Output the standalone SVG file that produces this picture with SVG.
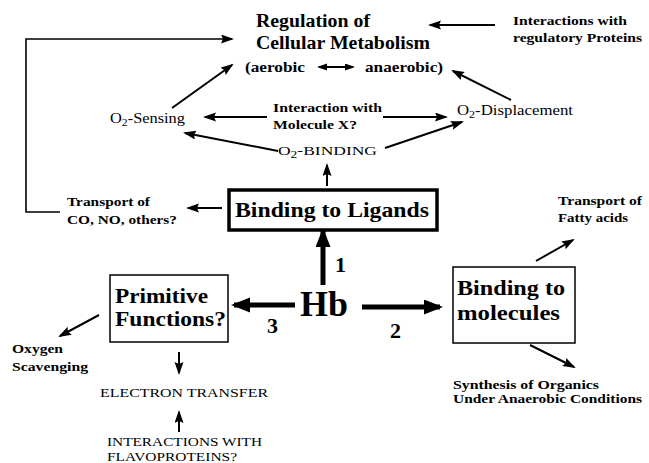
<svg xmlns="http://www.w3.org/2000/svg" width="649" height="463" viewBox="0 0 649 463">
<defs>
<marker id="ah" markerUnits="userSpaceOnUse" markerWidth="14" markerHeight="10" refX="11" refY="4.5" orient="auto-start-reverse" viewBox="0 0 14 10">
<path d="M0,0 L13,4.5 L0,9 L2,4.5 z" fill="#000"/>
</marker>
<marker id="ahs" markerUnits="userSpaceOnUse" markerWidth="10" markerHeight="8" refX="8" refY="3.5" orient="auto-start-reverse" viewBox="0 0 10 8">
<path d="M0,0 L10,3.5 L0,7 z" fill="#000"/>
</marker>
<marker id="ahb" markerUnits="userSpaceOnUse" markerWidth="20" markerHeight="16" refX="16" refY="7.5" orient="auto" viewBox="0 0 20 16">
<path d="M0,0 L19,7.5 L0,15 z" fill="#000"/>
</marker>
</defs>
<style>
text{font-family:"Liberation Serif","DejaVu Serif",serif;fill:#000}
.b{font-weight:700}
.t13{font-size:13px}
.t14{font-size:14px}
.big{font-size:21px;font-weight:700}
.num{font-size:22px;font-weight:700}
.c{fill:none;stroke:#000;stroke-width:2}
.a{marker-end:url(#ah)}
.thick{fill:none;stroke:#000;stroke-width:5;marker-end:url(#ahb)}
.box{fill:#fff;stroke:#000;stroke-width:1.5}
</style>
<rect width="649" height="463" fill="#fff"/>

<g id="connectors">
<polyline class="c" points="60,212 26,212 26,39 232,39" style="stroke-width:1.6;marker-end:url(#ah)"/>
<line class="c a" x1="495" y1="25" x2="430" y2="25"/>
<line class="c a" x1="172" y1="108" x2="232" y2="65"/>
<line class="c a" x1="511" y1="100" x2="453" y2="71"/>
<line class="c a" x1="267" y1="117" x2="205" y2="117"/>
<line class="c a" x1="383" y1="117" x2="446" y2="117"/>
<line class="c a" x1="278" y1="151" x2="185" y2="133"/>
<line class="c a" x1="385" y1="148" x2="462" y2="122"/>
<line class="c a" x1="327" y1="186" x2="327" y2="165"/>
<line class="c a" x1="222" y1="208" x2="188" y2="208"/>
<line class="thick" x1="323" y1="285" x2="323" y2="231"/>
<line class="thick" x1="295" y1="305" x2="234" y2="305"/>
<line class="thick" x1="362" y1="307" x2="440" y2="307"/>
<line class="c a" x1="99" y1="315" x2="60" y2="336"/>
<line class="c a" x1="179" y1="352" x2="179" y2="373"/>
<line class="c a" x1="179" y1="432" x2="179" y2="412"/>
<line class="c a" x1="536" y1="261" x2="573" y2="240"/>
<line class="c a" x1="530" y1="345" x2="574" y2="367"/>
<line class="c" x1="319" y1="67" x2="353" y2="67" style="marker-start:url(#ahs);marker-end:url(#ahs)"/>
</g>

<g id="regulation">
<text class="b" x="256" y="27" font-size="18" textLength="114" lengthAdjust="spacingAndGlyphs">Regulation of</text>
<text class="b" x="256" y="49" font-size="18" textLength="174" lengthAdjust="spacingAndGlyphs">Cellular Metabolism</text>
<text class="b" x="245" y="72" font-size="15" textLength="60" lengthAdjust="spacingAndGlyphs">(aerobic</text>
<text class="b" x="365" y="72" font-size="15" textLength="78" lengthAdjust="spacingAndGlyphs">anaerobic)</text>
</g>

<g id="regulatory-proteins">
<text class="b t13" x="513" y="25" textLength="114" lengthAdjust="spacingAndGlyphs">Interactions with</text>
<text class="b t13" x="513" y="42" textLength="129" lengthAdjust="spacingAndGlyphs">regulatory Proteins</text>
</g>

<g id="o2-sensing">
<text class="t14" x="110" y="123" textLength="75" lengthAdjust="spacingAndGlyphs">O<tspan font-size="10" dy="3">2</tspan><tspan dy="-3">-Sensing</tspan></text>
</g>

<g id="molecule-x">
<text class="b t13" x="273" y="112" textLength="109" lengthAdjust="spacingAndGlyphs">Interaction with</text>
<text class="b t13" x="273" y="129" textLength="84" lengthAdjust="spacingAndGlyphs">Molecule X?</text>
</g>

<g id="o2-displacement">
<text class="t14" x="457" y="115" textLength="116" lengthAdjust="spacingAndGlyphs">O<tspan font-size="10" dy="3">2</tspan><tspan dy="-3">-Displacement</tspan></text>
</g>

<g id="o2-binding">
<text class="t13" x="278" y="155" textLength="99" lengthAdjust="spacingAndGlyphs">O<tspan font-size="10" dy="3">2</tspan><tspan dy="-3">-BINDING</tspan></text>
</g>

<g id="binding-ligands">
<rect x="229" y="190" width="208" height="40" fill="#fff" stroke="#000" stroke-width="3.5"/>
<text class="big" x="235" y="217" textLength="194" lengthAdjust="spacingAndGlyphs">Binding to Ligands</text>
</g>

<g id="transport-co">
<text class="b t13" x="67" y="206" textLength="83" lengthAdjust="spacingAndGlyphs">Transport of</text>
<text class="b t13" x="67" y="224" textLength="110" lengthAdjust="spacingAndGlyphs">CO, NO, others?</text>
</g>

<g id="hb">
<text class="b" x="300" y="316" font-size="36" textLength="48" lengthAdjust="spacingAndGlyphs">Hb</text>
</g>

<g id="labels">
<text class="num" x="335" y="272">1</text>
<text class="num" x="390" y="338">2</text>
<text class="num" x="267" y="333">3</text>
</g>

<g id="primitive">
<rect class="box" x="110" y="275" width="118" height="67"/>
<text class="big" x="115" y="303" textLength="93" lengthAdjust="spacingAndGlyphs">Primitive</text>
<text class="big" x="115" y="326" textLength="111" lengthAdjust="spacingAndGlyphs">Functions?</text>
</g>

<g id="binding-molecules">
<rect class="box" x="453" y="267" width="122" height="76"/>
<text class="big" x="457" y="295" textLength="108" lengthAdjust="spacingAndGlyphs">Binding to</text>
<text class="big" x="457" y="320" textLength="103" lengthAdjust="spacingAndGlyphs">molecules</text>
</g>

<g id="fatty-acids">
<text class="b t13" x="558" y="205" textLength="84" lengthAdjust="spacingAndGlyphs">Transport of</text>
<text class="b t13" x="558" y="222" textLength="70" lengthAdjust="spacingAndGlyphs">Fatty acids</text>
</g>

<g id="synthesis">
<text class="b t13" x="453" y="389" textLength="146" lengthAdjust="spacingAndGlyphs">Synthesis of Organics</text>
<text class="b t13" x="453" y="403" textLength="189" lengthAdjust="spacingAndGlyphs">Under Anaerobic Conditions</text>
</g>

<g id="oxygen-scavenging">
<text class="b t13" x="12" y="353" textLength="51" lengthAdjust="spacingAndGlyphs">Oxygen</text>
<text class="b t13" x="12" y="371" textLength="76" lengthAdjust="spacingAndGlyphs">Scavenging</text>
</g>

<g id="electron-transfer">
<text class="t13" x="100" y="397" textLength="168" lengthAdjust="spacingAndGlyphs">ELECTRON TRANSFER</text>
</g>

<g id="flavoproteins">
<text x="107" y="446" font-size="12" textLength="155" lengthAdjust="spacingAndGlyphs">INTERACTIONS WITH</text>
<text x="107" y="461" font-size="12" textLength="130" lengthAdjust="spacingAndGlyphs">FLAVOPROTEINS?</text>
</g>
</svg>
